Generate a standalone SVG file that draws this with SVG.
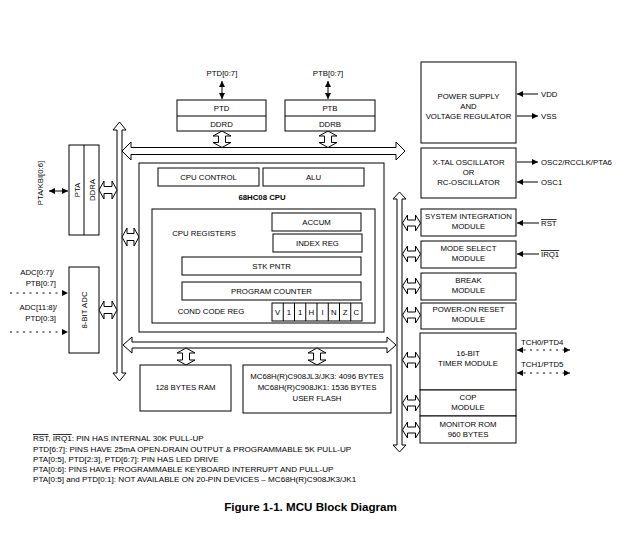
<svg xmlns="http://www.w3.org/2000/svg" width="627" height="553" viewBox="0 0 627 553">
<defs>
<marker id="ah" viewBox="0 0 10 10" refX="10" refY="5" markerWidth="8" markerHeight="6" markerUnits="userSpaceOnUse" orient="auto-start-reverse">
<path d="M0,0 L10,5 L0,10 Z" fill="#000"/>
</marker>
</defs>
<style>
text{font-family:"Liberation Sans",Arial,sans-serif;font-size:7.8px;fill:#000}
.c{text-anchor:middle}
.e{text-anchor:end}
.b{font-weight:bold}
.box{fill:#fff;stroke:#000;stroke-width:1}
.bus{fill:#fff;stroke:#000;stroke-width:1;stroke-linejoin:miter}
.pin{stroke:#000;stroke-width:1;fill:none}
.dot{stroke:#000;stroke-width:1;fill:none;stroke-dasharray:2,4.5}
.ln{stroke:#000;stroke-width:1}
.leg{font-size:8.1px}
.ttl{font-size:11.6px;font-weight:bold}
</style>
<rect width="627" height="553" fill="#fff"/>

<g id="connectors">
<path class="bus" d="M119.5,122 L126,130 L122,130 L122,373 L126,373 L119.5,381 L113,373 L117,373 L117,130 L113,130 Z"/>
<path class="bus" d="M399.5,192 L406,199 L402,199 L402,445 L406,445 L399.5,452 L393,445 L397,445 L397,199 L393,199 Z"/>
<path class="bus" d="M122,151 L131,142 L131,147.5 L396,147.5 L396,142 L405,151 L396,160 L396,154.5 L131,154.5 L131,160 Z"/>
<path class="bus" d="M123,345 L132,337 L132,342 L387,342 L387,337 L396,345 L387,353 L387,348 L132,348 L132,353 Z"/>
<path class="bus" d="M222,131 L231,136 L225.5,136 L225.5,142.5 L231,142.5 L222,147.5 L213,142.5 L218.5,142.5 L218.5,136 L213,136 Z"/>
<path class="bus" d="M328,131 L337,136 L331.5,136 L331.5,142.5 L337,142.5 L328,147.5 L319,142.5 L324.5,142.5 L324.5,136 L319,136 Z"/>
<path class="bus" d="M186,348 L195,353 L189.5,353 L189.5,360 L195,360 L186,365 L177,360 L182.5,360 L182.5,353 L177,353 Z"/>
<path class="bus" d="M317,348 L326,353 L320.5,353 L320.5,360 L326,360 L317,365 L308,360 L313.5,360 L313.5,353 L308,353 Z"/>
<path class="bus" d="M99,190 L104,181 L104,186.5 L112,186.5 L112,181 L117,190 L112,199 L112,193.5 L104,193.5 L104,199 Z"/>
<path class="bus" d="M99,310 L104,301 L104,306.5 L112,306.5 L112,301 L117,310 L112,319 L112,313.5 L104,313.5 L104,319 Z"/>
<path class="bus" d="M122,237 L127,228 L127,233.5 L134,233.5 L134,228 L139,237 L134,246 L134,240.5 L127,240.5 L127,246 Z"/>
<path class="bus" d="M402.5,223 L407.5,215 L407.5,220 L415.5,220 L415.5,215 L420.5,223 L415.5,231 L415.5,226 L407.5,226 L407.5,231 Z"/>
<path class="bus" d="M402.5,254 L407.5,246 L407.5,251 L415.5,251 L415.5,246 L420.5,254 L415.5,262 L415.5,257 L407.5,257 L407.5,262 Z"/>
<path class="bus" d="M402.5,286 L407.5,278 L407.5,283 L415.5,283 L415.5,278 L420.5,286 L415.5,294 L415.5,289 L407.5,289 L407.5,294 Z"/>
<path class="bus" d="M402.5,315 L407.5,307 L407.5,312 L415.5,312 L415.5,307 L420.5,315 L415.5,323 L415.5,318 L407.5,318 L407.5,323 Z"/>
<path class="bus" d="M402.5,360 L407.5,352 L407.5,357 L415.5,357 L415.5,352 L420.5,360 L415.5,368 L415.5,363 L407.5,363 L407.5,368 Z"/>
<path class="bus" d="M402.5,403 L407.5,395 L407.5,400 L415.5,400 L415.5,395 L420.5,403 L415.5,411 L415.5,406 L407.5,406 L407.5,411 Z"/>
<path class="bus" d="M402.5,430 L407.5,422 L407.5,427 L415.5,427 L415.5,422 L420.5,430 L415.5,438 L415.5,433 L407.5,433 L407.5,438 Z"/>
<line class="pin" x1="222" y1="81" x2="222" y2="99" marker-start="url(#ah)" marker-end="url(#ah)"/>
<line class="pin" x1="328" y1="81" x2="328" y2="99" marker-start="url(#ah)" marker-end="url(#ah)"/>
<line class="pin" x1="49" y1="191" x2="68" y2="191" marker-start="url(#ah)" marker-end="url(#ah)"/>
<line class="dot" x1="10" y1="293" x2="68" y2="293" marker-end="url(#ah)"/>
<line class="dot" x1="10" y1="332" x2="68" y2="332" marker-end="url(#ah)"/>
<line class="pin" x1="538" y1="94" x2="517" y2="94" marker-end="url(#ah)"/>
<line class="pin" x1="517" y1="116" x2="538" y2="116" marker-end="url(#ah)"/>
<line class="pin" x1="517" y1="162" x2="538" y2="162" marker-end="url(#ah)"/>
<line class="pin" x1="538" y1="182" x2="517" y2="182" marker-end="url(#ah)"/>
<line class="pin" x1="539" y1="223" x2="517" y2="223" marker-end="url(#ah)"/>
<line class="pin" x1="539" y1="254" x2="517" y2="254" marker-end="url(#ah)"/>
<line class="dot" x1="517" y1="350" x2="570" y2="350" marker-start="url(#ah)" marker-end="url(#ah)"/>
<line class="dot" x1="517" y1="373" x2="570" y2="373" marker-start="url(#ah)" marker-end="url(#ah)"/>
</g>

<g id="ptd">
<rect class="box" x="177" y="100" width="89" height="31"/>
<line class="ln" x1="177" y1="116" x2="266" y2="116"/>
<text class="c" x="221.5" y="111">PTD</text>
<text class="c" x="221.5" y="126.5">DDRD</text>
<text class="c" x="222" y="76">PTD[0:7]</text>
</g>
<g id="ptb">
<rect class="box" x="285" y="100" width="90" height="31"/>
<line class="ln" x1="285" y1="116" x2="375" y2="116"/>
<text class="c" x="330" y="111">PTB</text>
<text class="c" x="330" y="126.5">DDRB</text>
<text class="c" x="328" y="76">PTB[0:7]</text>
</g>

<g id="pta">
<rect class="box" x="69" y="145" width="30" height="90"/>
<line class="ln" x1="84" y1="145" x2="84" y2="235"/>
<text class="c" transform="translate(79.5,190) rotate(-90)">PTA</text>
<text class="c" transform="translate(94.5,190) rotate(-90)">DDRA</text>
<text class="c" transform="translate(43,183) rotate(-90)">PTA/KBI[0:6]</text>
</g>

<g id="adc">
<rect class="box" x="69" y="267" width="30" height="86"/>
<text class="c" transform="translate(87,310) rotate(-90)">8-BIT ADC</text>
<text class="e" x="54" y="275">ADC[0:7]/</text>
<text class="e" x="56" y="286">PTB[0:7]</text>
<text class="e" x="57" y="310">ADC[11:8]/</text>
<text class="e" x="56" y="321">PTD[0:3]</text>
</g>

<g id="cpu">
<rect class="box" x="139" y="163" width="245" height="169"/>
<rect class="box" x="158" y="168" width="101" height="18"/>
<text class="c" x="208.5" y="180">CPU CONTROL</text>
<rect class="box" x="263" y="168" width="101" height="18"/>
<text class="c" x="313.5" y="180">ALU</text>
<text class="c b" x="262" y="200">68HC08 CPU</text>
<rect class="box" x="152" y="209" width="223" height="114"/>
<text class="c" x="204" y="236">CPU REGISTERS</text>
<rect class="box" x="272" y="213" width="89" height="18"/>
<text class="c" x="316.5" y="225">ACCUM</text>
<rect class="box" x="273" y="234" width="89" height="18"/>
<text class="c" x="317.5" y="246">INDEX REG</text>
<rect class="box" x="182" y="257" width="179" height="18"/>
<text class="c" x="271.5" y="269">STK PNTR</text>
<rect class="box" x="182" y="282" width="179" height="18"/>
<text class="c" x="271.5" y="294">PROGRAM COUNTER</text>
<text class="c" x="211" y="314">COND CODE REG</text>
<rect class="box" x="272" y="303" width="90" height="18"/>
<line class="ln" x1="283.25" y1="303" x2="283.25" y2="321"/>
<line class="ln" x1="294.5" y1="303" x2="294.5" y2="321"/>
<line class="ln" x1="305.75" y1="303" x2="305.75" y2="321"/>
<line class="ln" x1="317" y1="303" x2="317" y2="321"/>
<line class="ln" x1="328.25" y1="303" x2="328.25" y2="321"/>
<line class="ln" x1="339.5" y1="303" x2="339.5" y2="321"/>
<line class="ln" x1="350.75" y1="303" x2="350.75" y2="321"/>
<text class="c" x="277.6" y="315">V</text>
<text class="c" x="288.9" y="315">1</text>
<text class="c" x="300.1" y="315">1</text>
<text class="c" x="311.4" y="315">H</text>
<text class="c" x="322.6" y="315">I</text>
<text class="c" x="333.9" y="315">N</text>
<text class="c" x="345.1" y="315">Z</text>
<text class="c" x="356.4" y="315">C</text>
</g>

<g id="ram">
<rect class="box" x="140" y="365" width="91" height="46"/>
<text class="c" x="185.5" y="390">128 BYTES RAM</text>
</g>
<g id="flash">
<rect class="box" x="243" y="365" width="148" height="48"/>
<text class="c" x="317" y="379">MC68H(R)C908JL3/JK3: 4096 BYTES</text>
<text class="c" x="317" y="390">MC68H(R)C908JK1: 1536 BYTES</text>
<text class="c" x="317" y="401">USER FLASH</text>
</g>

<g id="power">
<rect class="box" x="421" y="62" width="95" height="81"/>
<text class="c" x="468.5" y="99">POWER SUPPLY</text>
<text class="c" x="468.5" y="109">AND</text>
<text class="c" x="468.5" y="119">VOLTAGE REGULATOR</text>
<text x="541" y="97">VDD</text>
<text x="541" y="119">VSS</text>
</g>
<g id="osc">
<rect class="box" x="421" y="148" width="95" height="50"/>
<text class="c" x="468.5" y="165">X-TAL OSCILLATOR</text>
<text class="c" x="468.5" y="175">OR</text>
<text class="c" x="468.5" y="185">RC-OSCILLATOR</text>
<text x="541" y="165">OSC2/RCCLK/PTA6</text>
<text x="541" y="185">OSC1</text>
</g>
<g id="sim">
<rect class="box" x="421" y="209" width="95" height="27"/>
<text class="c" x="468.5" y="219">SYSTEM INTEGRATION</text>
<text class="c" x="468.5" y="229">MODULE</text>
<text x="541" y="226" text-decoration="overline">RST</text>
</g>
<g id="mode">
<rect class="box" x="421" y="241" width="95" height="27"/>
<text class="c" x="468.5" y="251">MODE SELECT</text>
<text class="c" x="468.5" y="261">MODULE</text>
<text x="541" y="257" text-decoration="overline">IRQ1</text>
</g>
<g id="break">
<rect class="box" x="421" y="273" width="95" height="27"/>
<text class="c" x="468.5" y="283">BREAK</text>
<text class="c" x="468.5" y="293">MODULE</text>
</g>
<g id="por">
<rect class="box" x="421" y="303" width="95" height="26"/>
<text class="c" x="468.5" y="312">POWER-ON RESET</text>
<text class="c" x="468.5" y="322">MODULE</text>
</g>
<g id="timer">
<rect class="box" x="420" y="333" width="96" height="57"/>
<text class="c" x="468" y="356">16-BIT</text>
<text class="c" x="468" y="366">TIMER MODULE</text>
<text x="521" y="345">TCH0/PTD4</text>
<text x="521" y="367">TCH1/PTD5</text>
</g>
<g id="cop">
<rect class="box" x="420" y="390" width="96" height="26"/>
<text class="c" x="468" y="400">COP</text>
<text class="c" x="468" y="410">MODULE</text>
</g>
<g id="monrom">
<rect class="box" x="420" y="416" width="96" height="27"/>
<text class="c" x="468" y="427">MONITOR ROM</text>
<text class="c" x="468" y="437">960 BYTES</text>
</g>

<g id="legend">
<text class="leg" x="33" y="441"><tspan text-decoration="overline">RST</tspan>, <tspan text-decoration="overline">IRQ1</tspan>: PIN HAS INTERNAL 30K PULL-UP</text>
<text class="leg" x="33" y="451.5">PTD[6:7]: PINS HAVE 25mA OPEN-DRAIN OUTPUT &amp; PROGRAMMABLE 5K PULL-UP</text>
<text class="leg" x="33" y="462">PTA[0:5], PTD[2:3], PTD[6:7]: PIN HAS LED DRIVE</text>
<text class="leg" x="33" y="472">PTA[0:6]: PINS HAVE PROGRAMMABLE KEYBOARD INTERRUPT AND PULL-UP</text>
<text class="leg" x="33" y="481.5">PTA[0:5] and PTD[0:1]: NOT AVAILABLE ON 20-PIN DEVICES – MC68H(R)C908JK3/JK1</text>
</g>
<text class="c ttl" x="310.5" y="511">Figure 1-1. MCU Block Diagram</text>
</svg>
